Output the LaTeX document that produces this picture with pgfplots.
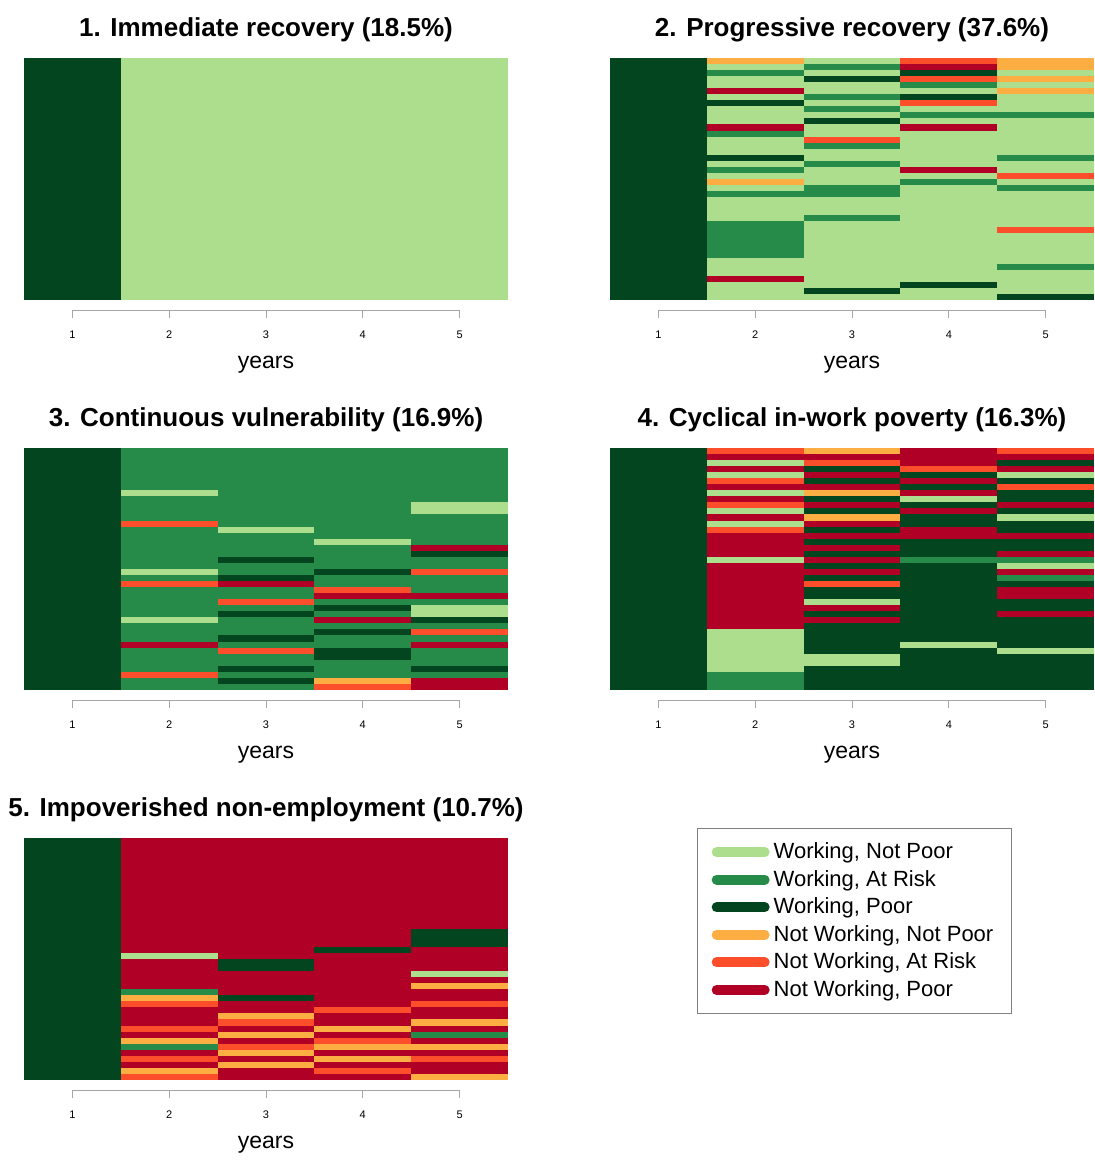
\documentclass[border=0pt]{standalone}
\usepackage{pgfplots}
\pgfplotsset{compat=1.18}
\usepackage{fontspec}
\setmainfont{Liberation Sans}
\definecolor{c0}{RGB}{173,222,142}
\definecolor{c1}{RGB}{38,139,73}
\definecolor{c2}{RGB}{2,69,30}
\definecolor{c3}{RGB}{253,174,66}
\definecolor{c4}{RGB}{252,78,42}
\definecolor{c5}{RGB}{176,0,38}
\pgfdeclareplotmark{cellA}{\pgfpathrectangle{\pgfpoint{-24.25pt}{-1.54pt}}{\pgfpoint{48.5pt}{3.08pt}}\pgfusepathqfill}
\pgfdeclareplotmark{cellB}{\pgfpathrectangle{\pgfpoint{-24.25pt}{-30.3pt}}{\pgfpoint{48.5pt}{60.6pt}}\pgfusepathqfill}
\pgfplotsset{
 seqp/.style={scale only axis, width=242pt, height=121pt, xmin=0.5, xmax=5.5, y dir=reverse,
  axis x line*=bottom, axis y line=none, axis line style={draw=none}, axis x line shift=5pt,
  xtick={1,2,3,4,5}, tick style={gray!70,thin}, major tick length=4pt, tick align=outside,
  /pgf/number format/assume math mode=true,
  xticklabel style={font=\fontsize{5.5}{6}\selectfont, yshift=-3pt},
  xlabel=years, xlabel style={font=\fontsize{11.5}{13}\selectfont, yshift=-2pt},
  title style={font=\bfseries\fontsize{13}{14}\selectfont, yshift=-1.5pt},
  extra description/.code={\draw[gray!70] ([xshift=24.2pt,yshift=-5pt]current axis.south west) -- ([xshift=-24.2pt,yshift=-5pt]current axis.south east);}},
 mp/.style={scatter, only marks, point meta=explicit symbolic, forget plot,
  scatter/classes={0={mark=#1,draw=none,fill=c0},1={mark=#1,draw=none,fill=c1},2={mark=#1,draw=none,fill=c2},3={mark=#1,draw=none,fill=c3},4={mark=#1,draw=none,fill=c4},5={mark=#1,draw=none,fill=c5}}},
 mp/.default=cellA,
 /pgfplots/table/tb/.style={/pgfplots/table/row sep=\\, /pgfplots/table/header=false, /pgfplots/table/x expr={mod(\coordindex,5)+1}, /pgfplots/table/y expr={floor((\coordindex+0.5)/5)+1}, /pgfplots/table/meta index=0}
}
\begin{document}
\begin{tikzpicture}
\path[use as bounding box] (-12pt,29pt) rectangle (535pt,-551pt);
% Panel 1
\begin{axis}[seqp, at={(0pt,0pt)}, anchor=north west, ymin=0.5, ymax=2.5, title={1. Immediate recovery (18.5\%)}]
\addplot[mp=cellB] table[tb] {
2\\0\\0\\0\\0\\
2\\0\\0\\0\\0\\
};
\end{axis}
% Panel 2
\begin{axis}[seqp, at={(293pt,0pt)}, anchor=north west, ymin=0.5, ymax=40.5, title={2. Progressive recovery (37.6\%)}]
\addplot[mp] table[tb] {
2\\3\\0\\4\\3\\
2\\0\\1\\5\\3\\
2\\1\\0\\2\\0\\
2\\0\\2\\4\\3\\
2\\0\\0\\1\\0\\
2\\5\\0\\0\\3\\
2\\0\\1\\2\\0\\
2\\2\\0\\4\\0\\
2\\0\\1\\0\\0\\
2\\0\\0\\1\\1\\
2\\0\\2\\0\\0\\
2\\5\\0\\5\\0\\
2\\1\\0\\0\\0\\
2\\0\\4\\0\\0\\
2\\0\\1\\0\\0\\
2\\0\\0\\0\\0\\
2\\2\\0\\0\\1\\
2\\0\\1\\0\\0\\
2\\1\\0\\5\\0\\
2\\0\\0\\0\\4\\
2\\3\\0\\1\\0\\
2\\0\\1\\0\\1\\
2\\1\\1\\0\\0\\
2\\0\\0\\0\\0\\
2\\0\\0\\0\\0\\
2\\0\\0\\0\\0\\
2\\0\\1\\0\\0\\
2\\1\\0\\0\\0\\
2\\1\\0\\0\\4\\
2\\1\\0\\0\\0\\
2\\1\\0\\0\\0\\
2\\1\\0\\0\\0\\
2\\1\\0\\0\\0\\
2\\0\\0\\0\\0\\
2\\0\\0\\0\\1\\
2\\0\\0\\0\\0\\
2\\5\\0\\0\\0\\
2\\0\\0\\2\\0\\
2\\0\\2\\0\\0\\
2\\0\\0\\0\\2\\
};
\end{axis}
% Panel 3
\begin{axis}[seqp, at={(0pt,-195pt)}, anchor=north west, ymin=0.5, ymax=40.5, title={3. Continuous vulnerability (16.9\%)}]
\addplot[mp] table[tb] {
2\\1\\1\\1\\1\\
2\\1\\1\\1\\1\\
2\\1\\1\\1\\1\\
2\\1\\1\\1\\1\\
2\\1\\1\\1\\1\\
2\\1\\1\\1\\1\\
2\\1\\1\\1\\1\\
2\\0\\1\\1\\1\\
2\\1\\1\\1\\1\\
2\\1\\1\\1\\0\\
2\\1\\1\\1\\0\\
2\\1\\1\\1\\1\\
2\\4\\1\\1\\1\\
2\\1\\0\\1\\1\\
2\\1\\1\\1\\1\\
2\\1\\1\\0\\1\\
2\\1\\1\\1\\5\\
2\\1\\1\\1\\2\\
2\\1\\2\\1\\1\\
2\\1\\1\\1\\1\\
2\\0\\1\\2\\4\\
2\\1\\2\\1\\1\\
2\\4\\5\\1\\1\\
2\\1\\1\\4\\1\\
2\\1\\1\\5\\5\\
2\\1\\4\\1\\1\\
2\\1\\1\\2\\0\\
2\\1\\2\\1\\0\\
2\\0\\1\\5\\2\\
2\\1\\1\\1\\1\\
2\\1\\1\\2\\4\\
2\\1\\2\\1\\1\\
2\\5\\1\\1\\5\\
2\\1\\4\\2\\1\\
2\\1\\1\\2\\1\\
2\\1\\1\\1\\1\\
2\\1\\2\\1\\2\\
2\\4\\1\\1\\1\\
2\\1\\2\\3\\5\\
2\\1\\1\\4\\5\\
};
\end{axis}
% Panel 4
\begin{axis}[seqp, at={(293pt,-195pt)}, anchor=north west, ymin=0.5, ymax=40.5, title={4. Cyclical in-work poverty (16.3\%)}]
\addplot[mp] table[tb] {
2\\4\\3\\5\\4\\
2\\5\\5\\5\\5\\
2\\0\\4\\5\\2\\
2\\5\\2\\4\\5\\
2\\0\\5\\2\\0\\
2\\4\\2\\5\\2\\
2\\5\\5\\2\\4\\
2\\0\\3\\5\\2\\
2\\5\\2\\0\\2\\
2\\4\\5\\2\\5\\
2\\0\\2\\5\\2\\
2\\5\\3\\2\\0\\
2\\0\\5\\2\\2\\
2\\4\\2\\5\\2\\
2\\5\\5\\5\\5\\
2\\5\\2\\2\\2\\
2\\5\\5\\2\\2\\
2\\5\\2\\2\\5\\
2\\0\\5\\1\\1\\
2\\5\\2\\2\\0\\
2\\5\\5\\2\\5\\
2\\5\\2\\2\\1\\
2\\5\\4\\2\\2\\
2\\5\\2\\2\\5\\
2\\5\\2\\2\\5\\
2\\5\\0\\2\\2\\
2\\5\\5\\2\\2\\
2\\5\\2\\2\\5\\
2\\5\\5\\2\\2\\
2\\5\\2\\2\\2\\
2\\0\\2\\2\\2\\
2\\0\\2\\2\\2\\
2\\0\\2\\0\\2\\
2\\0\\2\\2\\0\\
2\\0\\0\\2\\2\\
2\\0\\0\\2\\2\\
2\\0\\2\\2\\2\\
2\\1\\2\\2\\2\\
2\\1\\2\\2\\2\\
2\\1\\2\\2\\2\\
};
\end{axis}
% Panel 5
\begin{axis}[seqp, at={(0pt,-390pt)}, anchor=north west, ymin=0.5, ymax=40.5, title={5. Impoverished non-employment (10.7\%)},
  legend style={at={(1.391,1.04)}, anchor=north west, draw=gray, font=\fontsize{11}{13}\selectfont, row sep=0.3pt, inner xsep=7pt, inner ysep=5pt, cells={anchor=west}},
  legend image code/.code={\draw[line width=5pt, line cap=round, #1] (2pt,0pt) -- (26pt,0pt);}]
\addplot[mp] table[tb] {
2\\5\\5\\5\\5\\
2\\5\\5\\5\\5\\
2\\5\\5\\5\\5\\
2\\5\\5\\5\\5\\
2\\5\\5\\5\\5\\
2\\5\\5\\5\\5\\
2\\5\\5\\5\\5\\
2\\5\\5\\5\\5\\
2\\5\\5\\5\\5\\
2\\5\\5\\5\\5\\
2\\5\\5\\5\\5\\
2\\5\\5\\5\\5\\
2\\5\\5\\5\\5\\
2\\5\\5\\5\\5\\
2\\5\\5\\5\\5\\
2\\5\\5\\5\\2\\
2\\5\\5\\5\\2\\
2\\5\\5\\5\\2\\
2\\5\\5\\2\\5\\
2\\0\\5\\5\\5\\
2\\5\\2\\5\\5\\
2\\5\\2\\5\\5\\
2\\5\\5\\5\\0\\
2\\5\\5\\5\\5\\
2\\5\\5\\5\\3\\
2\\1\\5\\5\\5\\
2\\3\\2\\5\\5\\
2\\4\\5\\5\\4\\
2\\5\\5\\4\\5\\
2\\5\\3\\5\\5\\
2\\5\\4\\5\\3\\
2\\4\\5\\3\\5\\
2\\5\\3\\5\\1\\
2\\3\\5\\4\\5\\
2\\1\\4\\3\\3\\
2\\5\\3\\5\\5\\
2\\4\\5\\3\\4\\
2\\5\\3\\5\\5\\
2\\3\\5\\4\\5\\
2\\4\\5\\5\\3\\
};
\addlegendimage{c0}\addlegendentry{Working, Not Poor}
\addlegendimage{c1}\addlegendentry{Working, At Risk}
\addlegendimage{c2}\addlegendentry{Working, Poor}
\addlegendimage{c3}\addlegendentry{Not Working, Not Poor}
\addlegendimage{c4}\addlegendentry{Not Working, At Risk}
\addlegendimage{c5}\addlegendentry{Not Working, Poor}
\end{axis}
\end{tikzpicture}
\end{document}
